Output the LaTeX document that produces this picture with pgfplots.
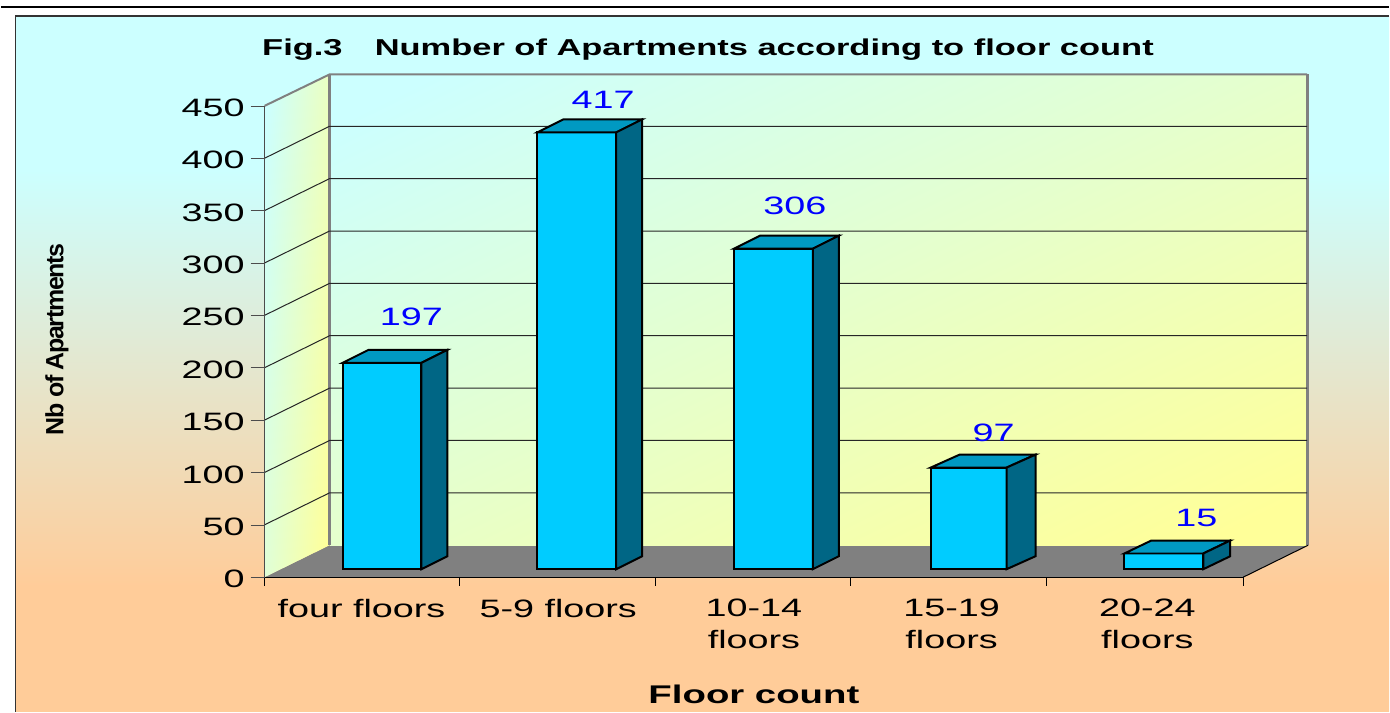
\documentclass[border=0pt]{standalone}
\usepackage{fontspec}
\usepackage{pgfplots}
\pgfplotsset{compat=1.18}
\setmainfont[FakeStretch=1.5]{Liberation Sans}
\newfontfamily\ylabfont[LetterSpace=-5.5]{Liberation Sans}
\definecolor{bgtop}{HTML}{CCFFFF}
\definecolor{bgbot}{HTML}{FFCC99}
\definecolor{wallend}{HTML}{FFFF99}
\definecolor{floorgr}{HTML}{808080}
\definecolor{barfront}{HTML}{00CCFF}
\definecolor{barside}{HTML}{006685}
\definecolor{bartop}{HTML}{0099C2}
\definecolor{lab}{HTML}{0000FF}
\pgfdeclareverticalshading{bgsh}{100bp}{color(0bp)=(bgbot); color(34bp)=(bgbot); color(64bp)=(bgtop); color(100bp)=(bgtop)}
\pgfdeclareverticalshading{backsh}{100bp}{color(0bp)=(wallend); color(20bp)=(wallend); color(80bp)=(bgtop); color(100bp)=(bgtop)}
\pgfdeclareverticalshading{leftsh}{100bp}{color(0bp)=(wallend); color(25bp)=(wallend); color(75bp)=(bgtop); color(100bp)=(bgtop)}
% left edge, right edge, value, right edge of the side face
% bars stand 7.6 units in front of the axis floor line, depth adds 12.4
\newcommand\threedbar[4]{%
 \pgfmathsetmacro\tb{#3+7.6}\pgfmathsetmacro\tbb{#3+20}
 \pgfmathsetmacro\sx{#1+#4-#2}
 \addplot[fill=barfront,draw=black,line width=1pt] coordinates {(#1,7.6) (#1,\tb) (#2,\tb) (#2,7.6)} --cycle;
 \addplot[fill=bartop,draw=black,line width=1pt] coordinates {(#1,\tb) (\sx,\tbb) (#4,\tbb) (#2,\tb)} --cycle;
 \addplot[fill=barside,draw=black,line width=1pt] coordinates {(#2,\tb) (#4,\tbb) (#4,20) (#2,7.6)} --cycle;
}
\newcommand\gridl[2]{\addplot[black!85,line width=.5pt] coordinates {(264,#1) (329,#2) (1308,#2)};}
\newcommand\lfont{\fontsize{12.6}{16}\selectfont}
\begin{document}
% one reference pixel = 0.5pt
\begin{tikzpicture}[x=0.5pt,y=-0.5pt]
\path (0,0) rectangle (1390,713);
\draw[black,line width=1pt] (0,7.5) -- (1390,7.5);
\shade[shading=bgsh] (15,17) rectangle (1390,713);
\draw[black!80,line width=.75pt] (1390,16) -- (14.5,16) -- (14.5,713);
\begin{axis}[scale only axis,anchor=north west,at={(132pt,-53pt)},
 width=490pt,height=236pt,clip=false,axis on top,
 xmin=264,xmax=1244,ymin=0,ymax=450,
 axis x line*=bottom,axis y line*=left,
 x axis line style={black,-},y axis line style={black!70,-},
 ytick={0,50,...,450},
 xtick={361,558,754,952,1148},
 xticklabels={four floors,5-9 floors,10-14\\floors,15-19\\floors,20-24\\floors},
 major x tick style={draw=none},
 major tick length=7pt,tick align=outside,tick pos=left,
 y tick style={black!70},
 tick label style={font=\lfont,black},
 yticklabel style={yshift=-1pt,xshift=.5pt},
 xticklabel style={align=center,text depth=0pt,yshift=-.5pt},
 /pgf/number format/assume math mode=true,
 ]
% walls and floor
\addplot[fill=floorgr,draw=none] coordinates {(264,0) (329,30.5) (1309,30.5) (1244,0)} --cycle;
\shade[shading=backsh,shading angle=26] (axis cs:329,30.5) rectangle (axis cs:1308,480);
\shade[shading=leftsh,shading angle=85] (axis cs:264,0) -- (axis cs:329,30.5) -- (axis cs:329,480) -- (axis cs:264,450) -- cycle;
\addplot[black!50,line width=1pt] coordinates {(264,450) (329,480) (1308,480)};
\addplot[black!50,line width=1.5pt] coordinates {(329,480) (329,30.5)};
\addplot[black!50,line width=1.5pt] coordinates {(1308,480) (1308,30.5)};
\addplot[black,line width=.5pt] coordinates {(1244,0) (1309,30.5)};
\gridl{50}{80.5}\gridl{100}{130.5}\gridl{150}{180.5}\gridl{200}{230.5}
\gridl{250}{280.5}\gridl{300}{330.5}\gridl{350}{380.5}\gridl{400}{430.5}
% ticks between the categories
\addplot[ycomb,black,line width=.5pt,mark=none] coordinates {(264,-8.6) (459,-8.6) (655,-8.6) (851,-8.6) (1047,-8.6) (1244,-8.6)};
% bars
\threedbar{342}{421}{197}{447}
\threedbar{537}{616}{417}{642}
\threedbar{734}{813}{306}{839}
\threedbar{931}{1007}{97}{1036}
\threedbar{1125}{1204}{15}{1231}
% value labels
\node[lab,font=\lfont] at (axis cs:411,248.8) {197};
\node[lab,font=\lfont] at (axis cs:603,455.6) {417};
\node[lab,font=\lfont] at (axis cs:795,354.6) {306};
\node[lab,font=\lfont] at (axis cs:994,138.2) {97};
\node[lab,font=\lfont] at (axis cs:1197,56.2) {15};
\end{axis}
\node[font=\fontsize{11.5}{14}\selectfont\bfseries] at (708,50) {Fig.3\hspace{1.4em}Number of Apartments according to floor count};
\node[font=\fontsize{12.8}{14}\selectfont\bfseries] at (754,695) {Floor count};
\node[rotate=90,font=\ylabfont\fontsize{12.5}{14}\selectfont\bfseries] at (56,340) {Nb of Apartments};
\end{tikzpicture}
\end{document}
